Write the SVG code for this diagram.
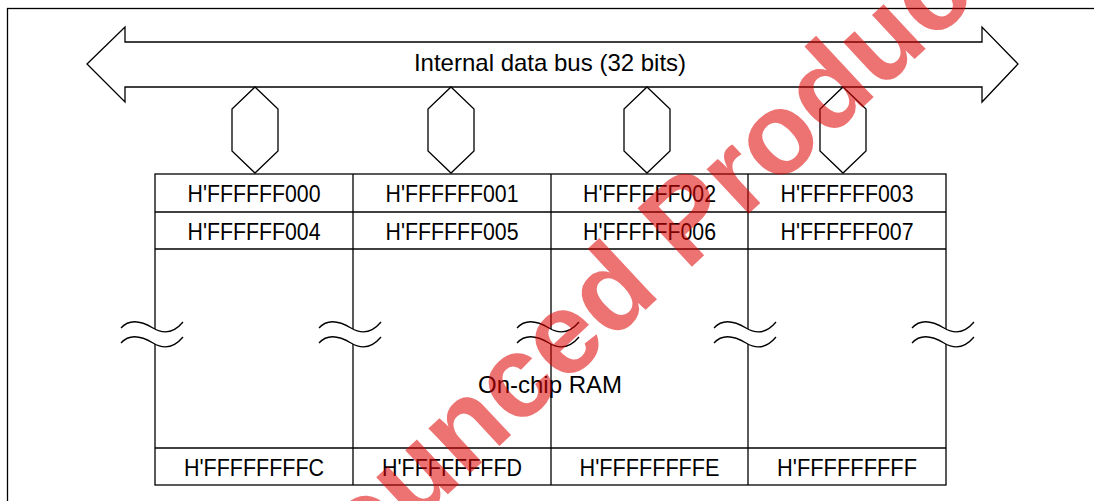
<svg xmlns="http://www.w3.org/2000/svg" xmlns:xlink="http://www.w3.org/1999/xlink" width="1094" height="501" viewBox="0 0 1094 501">
<style>
.ln{fill:none;stroke:#000;stroke-width:1.3}
.sh{fill:#fff;stroke:#000;stroke-width:1.3;stroke-linejoin:miter}
.t{font-family:"Liberation Sans",Arial,sans-serif;font-size:24px;fill:#000;text-anchor:middle}
.wm{font-family:"Liberation Sans",Arial,sans-serif;font-weight:bold;font-size:116px;fill:#e00000;opacity:0.55}
</style>
<defs>
<path id="hex" d="M0,87 L23,109 L23,151 L0,173 L-23,151 L-23,109 Z"/>
<path id="wave" d="M-34,0 C-25,-10 -12,-6 -2,0 C8,6 18,6 28,-6"/>
<path id="gap" d="M-34,0 C-25,-10 -12,-6 -2,0 C8,6 18,6 28,-6 L28,9 C18,21 8,21 -2,15 C-12,9 -25,5 -34,15 Z"/>
</defs>
<rect width="1094" height="501" fill="#fff"/>
<rect id="frame" x="7.5" y="8.5" width="1100" height="510" class="ln"/>

<g id="bus">
<polygon class="sh" points="87,64 125,27 125,42 982,42 982,27 1018,64 982,102 982,87 125,87 125,102"/>
<text class="t" x="550" y="71">Internal data bus (32 bits)</text>
</g>

<g id="connectors">
<use xlink:href="#hex" x="255" class="sh"/>
<use xlink:href="#hex" x="451" class="sh"/>
<use xlink:href="#hex" x="647" class="sh"/>
<use xlink:href="#hex" x="843" class="sh"/>
</g>

<g id="ram">
<rect x="155" y="174" width="791" height="311" class="ln"/>
<line x1="155" y1="212" x2="946" y2="212" class="ln"/>
<line x1="155" y1="249" x2="946" y2="249" class="ln"/>
<line x1="155" y1="448" x2="946" y2="448" class="ln"/>
<line x1="353" y1="174" x2="353" y2="485" class="ln"/>
<line x1="551" y1="174" x2="551" y2="485" class="ln"/>
<line x1="748" y1="174" x2="748" y2="485" class="ln"/>
<g id="breaks">
<g transform="translate(155,328)"><use xlink:href="#gap" fill="#fff"/><use xlink:href="#wave" class="ln"/><use xlink:href="#wave" y="15" class="ln"/></g>
<g transform="translate(353,328)"><use xlink:href="#gap" fill="#fff"/><use xlink:href="#wave" class="ln"/><use xlink:href="#wave" y="15" class="ln"/></g>
<g transform="translate(551,328)"><use xlink:href="#gap" fill="#fff"/><use xlink:href="#wave" class="ln"/><use xlink:href="#wave" y="15" class="ln"/></g>
<g transform="translate(748,328)"><use xlink:href="#gap" fill="#fff"/><use xlink:href="#wave" class="ln"/><use xlink:href="#wave" y="15" class="ln"/></g>
<g transform="translate(946,328)"><use xlink:href="#gap" fill="#fff"/><use xlink:href="#wave" class="ln"/><use xlink:href="#wave" y="15" class="ln"/></g>
</g>
<g id="cells">
<text class="t" x="254" y="202" textLength="133" lengthAdjust="spacingAndGlyphs">H'FFFFFF000</text>
<text class="t" x="452" y="202" textLength="133" lengthAdjust="spacingAndGlyphs">H'FFFFFF001</text>
<text class="t" x="649.5" y="202" textLength="133" lengthAdjust="spacingAndGlyphs">H'FFFFFF002</text>
<text class="t" x="847" y="202" textLength="133" lengthAdjust="spacingAndGlyphs">H'FFFFFF003</text>
<text class="t" x="254" y="240" textLength="133" lengthAdjust="spacingAndGlyphs">H'FFFFFF004</text>
<text class="t" x="452" y="240" textLength="133" lengthAdjust="spacingAndGlyphs">H'FFFFFF005</text>
<text class="t" x="649.5" y="240" textLength="133" lengthAdjust="spacingAndGlyphs">H'FFFFFF006</text>
<text class="t" x="847" y="240" textLength="133" lengthAdjust="spacingAndGlyphs">H'FFFFFF007</text>
<text class="t" x="254" y="476" textLength="140" lengthAdjust="spacingAndGlyphs">H'FFFFFFFFC</text>
<text class="t" x="452" y="476" textLength="140" lengthAdjust="spacingAndGlyphs">H'FFFFFFFFD</text>
<text class="t" x="649.5" y="476" textLength="140" lengthAdjust="spacingAndGlyphs">H'FFFFFFFFE</text>
<text class="t" x="847" y="476" textLength="140" lengthAdjust="spacingAndGlyphs">H'FFFFFFFFF</text>
</g>
<text class="t" x="550" y="393">On-chip RAM</text>
</g>

<text class="wm" transform="translate(196,729) rotate(-43)">Announced Product</text>
</svg>
